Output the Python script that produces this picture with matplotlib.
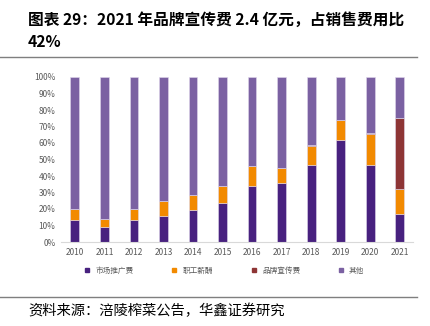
import numpy as np
import matplotlib.pyplot as plt
from matplotlib.ticker import PercentFormatter
from matplotlib.lines import Line2D

plt.rcParams['font.family'] = ['Noto Sans CJK SC', 'DejaVu Sans']

# 数据（占销售费用比例，%）
years = ['2010', '2011', '2012', '2013', '2014', '2015', '2016', '2017', '2018', '2019', '2020', '2021']
market = [13.3, 9.3, 13.5, 15.8, 19.4, 23.8, 34.1, 35.9, 46.8, 61.6, 46.8, 17.0]
salary = [6.5, 4.4, 6.7, 9.0, 8.9, 10.1, 11.8, 8.9, 11.3, 12.3, 18.5, 15.3]
brand = [0.0, 0.0, 0.0, 0.0, 0.0, 0.0, 0.0, 0.0, 0.5, 0.0, 0.5, 43.0]
other = [100 - a - b - c for a, b, c in zip(market, salary, brand)]
labels = ['市场推广费', '职工薪酬', '品牌宣传费', '其他']
colors = ['#48217f', '#f28a00', '#8e3535', '#7b61a2']

fig = plt.figure(figsize=(4.3, 3.26), dpi=100)
ax = fig.add_axes([61/430, 1-242/326, (413-61)/430, (242-77)/326])

x = np.arange(len(years))
bottom = np.zeros(len(years))
for vals, c in zip([market, salary, brand, other], colors):
    ax.bar(x, vals, 0.3, bottom=bottom, color=c, edgecolor='#e0d8ec', linewidth=0.4)
    bottom += np.array(vals)

ax.set_xlim(-0.47, 11.45)
ax.set_ylim(0, 100)
ax.set_yticks(np.arange(0, 101, 10))
ax.yaxis.set_major_formatter(PercentFormatter(decimals=0))
ax.set_xticks(x)
ax.set_xticklabels(years)
ax.tick_params(axis='both', length=0, labelsize=6, colors='#595959', pad=4)
for s in ['top', 'right', 'left']:
    ax.spines[s].set_visible(False)
ax.spines['bottom'].set_color('#d9d9d9')
ax.spines['bottom'].set_linewidth(0.8)

handles = [Line2D([], [], marker='s', ls='', color=c, markersize=2.5) for c in colors]
fig.legend(handles, labels, loc='center', bbox_to_anchor=(222/430, 1-271/326), ncol=4,
           frameon=False, fontsize=5.5, handletextpad=0.1, columnspacing=4.3,
           labelcolor='#595959')

fig.text(28/430, 1-20/326, '图表 29：2021 年品牌宣传费 2.4 亿元，占销售费用比', fontsize=11.3,
         fontweight='bold', va='center', ha='left')
fig.text(28/430, 1-42/326, '42%', fontsize=11.3, fontweight='bold', va='center', ha='left')
fig.add_artist(Line2D([0, 417/430], [1-57/326, 1-57/326], color='#7f7f7f', lw=1))
fig.add_artist(Line2D([0, 417/430], [1-297/326, 1-297/326], color='#7f7f7f', lw=1))
fig.text(28/430, 1-311/326, '资料来源：涪陵榨菜公告，华鑫证券研究', fontsize=10.3,
         va='center', ha='left')

fig.savefig('out.png', dpi=100)
